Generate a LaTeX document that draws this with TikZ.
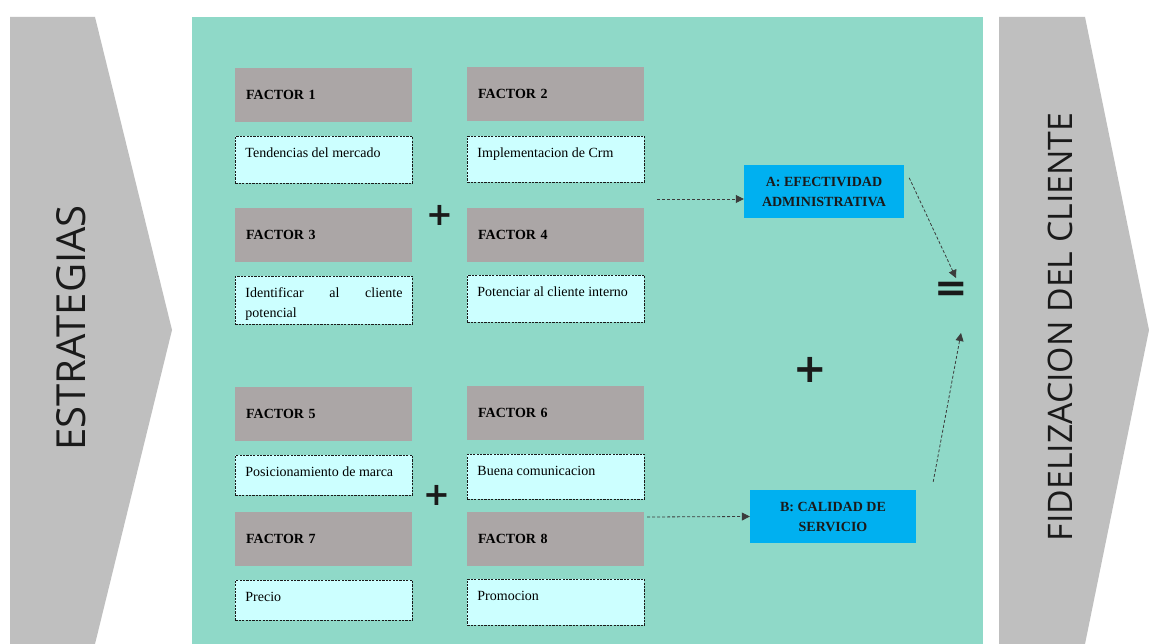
\documentclass[tikz,border=0pt]{standalone}
\usepackage{fontspec}
\setmainfont{Liberation Serif}
\newfontfamily\chevfont{Open Sans}
\newfontfamily\symfont{DejaVu Sans}
\usetikzlibrary{arrows.meta,calc}
\definecolor{chevgray}{HTML}{BFBFBF}
\definecolor{panel}{HTML}{8FD9C8}
\definecolor{fgray}{HTML}{ABA6A6}
\definecolor{dfill}{HTML}{CCFFFF}
\definecolor{cblue}{HTML}{00B0F0}
\definecolor{ink}{HTML}{1A1A1A}
\newcommand{\dtext}[2]{\parbox[c][#1][t]{157pt}{\rule{0pt}{21.5pt}#2}}
\tikzset{
  factorbox/.style={fill=fgray, anchor=north west, minimum height=54pt,
    text width=155pt, inner xsep=11pt, inner ysep=0pt, align=left,
    font=\bfseries\fontsize{14}{16}\selectfont},
  descbox/.style={fill=dfill, draw=ink, line width=0.9pt,
    dash pattern=on 2.2pt off 1.2pt, anchor=north west,
    inner xsep=10pt, inner ysep=0pt, font=\fontsize{14}{20}\selectfont},
  bluebox/.style={fill=cblue, inner sep=0pt, align=center,
    minimum height=53pt, font=\bfseries\fontsize{14}{20}\selectfont, text=ink},
  conn/.style={draw=ink!85, line width=0.8pt, dash pattern=on 3pt off 2pt,
    -{Triangle[length=8pt,width=8pt]}},
  chevtext/.style={rotate=90, text=ink, font=\chevfont},
  sym/.style={text=ink, inner sep=0pt, font=\symfont\bfseries}
}
\begin{document}
\begin{tikzpicture}[x=1pt,y=-1pt]
\useasboundingbox (0,0) rectangle (1149,644);
\fill[white] (0,0) rectangle (1149,644);
% chevrons
\fill[chevgray] (10,17) -- (95,17) -- (172,330) -- (95,644) -- (10,644) -- cycle;
\fill[chevgray] (999,17) -- (1085,17) -- (1149,330) -- (1085,644) -- (999,644) -- cycle;
\node[chevtext, font=\chevfont\fontsize{40}{44}\selectfont] (estr) at (71,328) {ESTRATEGIAS};
\node[chevtext, font=\chevfont\fontsize{33.8}{38}\selectfont] (fide) at (1060,327) {FIDELIZACION DEL CLIENTE};
% panel
\fill[panel] (192,17) rectangle (983,644);
% factors
\node[factorbox] (f1) at (235,68) {FACTOR 1};
\node[factorbox] (f2) at (467,67) {FACTOR 2};
\node[factorbox] (f3) at (235,208) {FACTOR 3};
\node[factorbox] (f4) at (467,208) {FACTOR 4};
\node[factorbox] (f5) at (235,387) {FACTOR 5};
\node[factorbox] (f6) at (467,386) {FACTOR 6};
\node[factorbox] (f7) at (235,512) {FACTOR 7};
\node[factorbox] (f8) at (467,512) {FACTOR 8};
% descriptions
\node[descbox] (d1) at (235,136) {\dtext{47pt}{Tendencias del mercado}};
\node[descbox] (d2) at (467,136) {\dtext{46pt}{Implementacion de Crm}};
\node[descbox] (d3) at (235,276) {\dtext{48pt}{\makebox[157pt][s]{Identificar al cliente}\\potencial}};
\node[descbox] (d4) at (467,275) {\dtext{47pt}{Potenciar al cliente interno}};
\node[descbox] (d5) at (235,455) {\dtext{40pt}{Posicionamiento de marca}};
\node[descbox] (d6) at (467,454) {\dtext{45pt}{Buena comunicacion}};
\node[descbox] (d7) at (235,580) {\dtext{40pt}{Precio}};
\node[descbox] (d8) at (467,579) {\dtext{46pt}{Promocion}};
% symbols
\node[sym, font=\symfont\bfseries\fontsize{32}{32}\selectfont] (p1) at (440,215) {+};
\node[sym, font=\symfont\bfseries\fontsize{32}{32}\selectfont] (p2) at (437,495) {+};
\node[sym, font=\symfont\bfseries\fontsize{40}{40}\selectfont] (p3) at (810,370) {+};
\node[sym, font=\symfont\bfseries\fontsize{40}{40}\selectfont] (eq) at (951,292) {=};
% result boxes
\node[bluebox, minimum width=160pt] (A) at (824,191.5) {A: EFECTIVIDAD\\ADMINISTRATIVA};
\node[bluebox, minimum width=166pt] (B) at (833,516.5) {B: CALIDAD DE\\SERVICIO};
% connectors
\coordinate (aIn) at (657,199);
\coordinate (bIn) at (647,517);
\coordinate (eqN) at (956,278);
\coordinate (eqS) at (961,333);
\draw[conn] (aIn) -- (aIn -| A.west);
\draw[conn] (bIn) -- (B.west);
\draw[conn] ([shift={(5pt,-13pt)}]A.north east) -- (eqN);
\draw[conn] ([shift={(17pt,8pt)}]B.north east) -- (eqS);
\end{tikzpicture}
\end{document}
